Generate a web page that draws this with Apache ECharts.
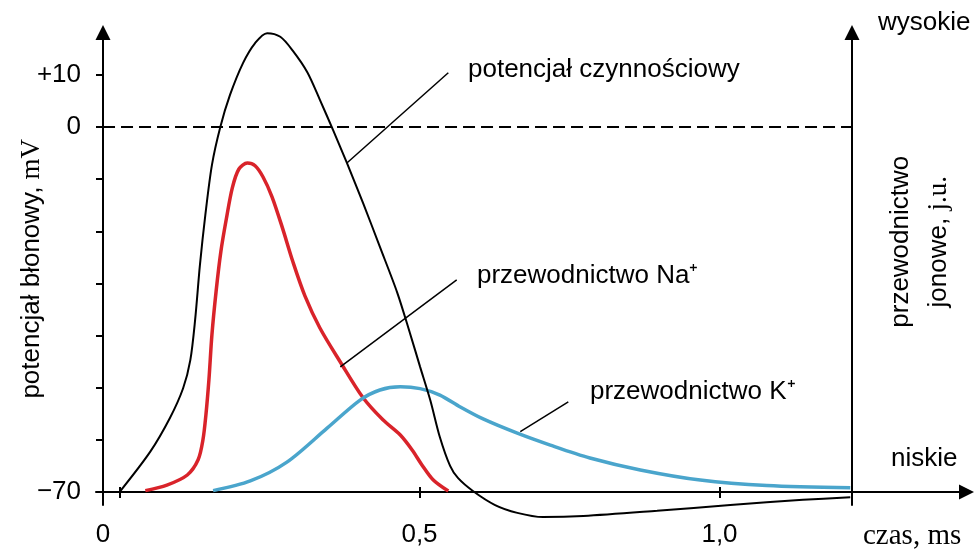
<!DOCTYPE html>
<html>
<head>
<meta charset="utf-8">
<style>
  html, body { margin: 0; padding: 0; background: #fff; }
  #main { width: 975px; height: 551px; }
</style>
<script src="https://cdn.jsdelivr.net/npm/echarts@6/dist/echarts.min.js"></script>
</head>
<body>
<div id="main"></div>
<script>
// potencjał czynnościowy: czas [ms] i napięcie [mV]
const apTime = [0, 0.051, 0.084, 0.106, 0.118, 0.126, 0.134, 0.143, 0.154, 0.168, 0.184, 0.206, 0.226, 0.246, 0.268, 0.289, 0.313, 0.334, 0.356, 0.379, 0.406, 0.434, 0.463, 0.484, 0.501, 0.518, 0.534, 0.551, 0.564, 0.589, 0.626, 0.663, 0.706, 0.773, 0.896, 1.018, 1.139, 1.218];
const apVolt = [-70, -62.3, -55.8, -50.1, -44.7, -37.0, -26.5, -16.9, -7.3, 0, 6.1, 12.3, 16.1, 18.0, 17.3, 14.6, 10.5, 5.2, -0.6, -6.9, -14.6, -23.0, -31.8, -39.5, -46.0, -52.4, -59.5, -65.0, -67.3, -69.8, -72.5, -74.0, -74.8, -74.6, -73.6, -72.5, -71.5, -71.0];

// przewodnictwo Na+ (j.u.)
const naTime = [0.043, 0.079, 0.113, 0.131, 0.139, 0.144, 0.149, 0.154, 0.161, 0.169, 0.178, 0.188, 0.199, 0.213, 0.226, 0.239, 0.254, 0.271, 0.289, 0.309, 0.334, 0.368, 0.406, 0.439, 0.468, 0.488, 0.504, 0.523, 0.548];
const naCond = [0.3, 1.5, 3.7, 7.0, 11.3, 16.8, 24.4, 34.2, 43.7, 52.4, 59.4, 66.2, 70.3, 71.6, 71.0, 68.6, 64.3, 57.7, 50.1, 42.7, 35.7, 28.3, 20.5, 15.7, 12.4, 9.1, 5.9, 2.6, 0.2];

// przewodnictwo K+ (j.u.)
const kTime = [0.156, 0.218, 0.279, 0.346, 0.401, 0.434, 0.468, 0.501, 0.534, 0.568, 0.606, 0.663, 0.718, 0.784, 0.868, 0.968, 1.079, 1.218];
const kCond = [0.3, 2.4, 6.5, 13.9, 20.0, 22.2, 22.9, 22.5, 21.1, 18.5, 15.9, 12.8, 10.2, 7.4, 4.8, 2.6, 1.4, 0.9];

// osie
const xTicks = [0, 0.5, 1.0];
const xTickText = ['0', '0,5', '1,0'];
const yTicks = [-70, -60, -50, -40, -30, -20, -10, 0, 10];
const yLabelValues = [-70, 0, 10];
const yLabelText = ['\u221270', '0', '+10'];

// zakresy osi (czas w ms, napięcie w mV)
const T_MIN = -0.0392, T_MAX = 1.4117;
const T_AXIS = -0.0275;   // położenie osi napięcia
const T_RIGHT = 1.2208;   // położenie osi przewodnictwa
const V_MIN = -72.49, V_MAX = 18.12;
const G_MIN = -2.83, G_MAX = 100;

const SANS = 'Liberation Sans';
const SERIF = 'Liberation Serif';

function pairs(xs, ys) {
    return xs.map((x, i) => [x, ys[i]]);
}

let myChart = echarts.init(document.getElementById('main'));

const xLabelValues = [T_AXIS, xTicks[1], xTicks[2]];

let option = {
    animation: false,
    backgroundColor: '#fff',
    grid: {
        left: 96,
        right: 8.5,
        top: 32.5,
        bottom: 46,
        outerBoundsMode: 'none',
        containLabel: false
    },
    xAxis: [
        {
            type: 'value',
            min: T_MIN,
            max: T_MAX,
            position: 'bottom',
            offset: -13,
            axisLine: {
                onZero: false,
                symbol: ['none', 'triangle'],
                symbolSize: [15, 15],
                lineStyle: { color: '#000', width: 2 }
            },
            axisTick: {
                show: true,
                customValues: xTicks,
                length: 6,
                lineStyle: { color: '#000', width: 2 }
            },
            axisLabel: {
                customValues: xLabelValues,
                formatter: function (v) {
                    const i = xLabelValues.indexOf(v);
                    return i >= 0 ? xTickText[i] : '';
                },
                margin: 30,
                color: '#000',
                fontFamily: SANS,
                fontSize: 26
            },
            splitLine: { show: false }
        },
        {
            // górna część kresek na osi czasu
            type: 'value',
            min: T_MIN,
            max: T_MAX,
            position: 'bottom',
            offset: -13,
            axisLine: { show: false, onZero: false },
            axisTick: {
                show: true,
                inside: true,
                customValues: xTicks,
                length: 5,
                lineStyle: { color: '#000', width: 2 }
            },
            axisLabel: { show: false },
            splitLine: { show: false }
        }
    ],
    yAxis: [
        {
            type: 'value',
            min: V_MIN,
            max: V_MAX,
            position: 'left',
            offset: -7,
            name: '{a|potencjał błonowy, }{b|mV}',
            nameLocation: 'middle',
            nameGap: 58,
            nameMoveOverlap: false,
            nameTextStyle: {
                rich: {
                    a: { fontFamily: SANS, fontSize: 26, color: '#000' },
                    b: { fontFamily: SERIF, fontSize: 27, color: '#000' }
                }
            },
            axisLine: {
                onZero: false,
                symbol: ['none', 'triangle'],
                symbolSize: [15, 15],
                lineStyle: { color: '#000', width: 2 }
            },
            axisTick: {
                show: true,
                customValues: yTicks,
                length: 7,
                lineStyle: { color: '#000', width: 2 }
            },
            axisLabel: {
                customValues: yLabelValues,
                formatter: function (v) {
                    const i = yLabelValues.indexOf(v);
                    return i >= 0 ? yLabelText[i] : '';
                },
                margin: 22,
                color: '#000',
                fontFamily: SANS,
                fontSize: 26
            },
            splitLine: { show: false }
        },
        {
            type: 'value',
            min: G_MIN,
            max: G_MAX,
            position: 'right',
            offset: -114.5,
            name: '{a|przewodnictwo}\n{a|jonowe, }{b|j.u.}',
            nameLocation: 'middle',
            nameGap: 30,
            nameMoveOverlap: false,
            nameTextStyle: {
                padding: [0, 0, 0, 54],
                rich: {
                    a: { fontFamily: SANS, fontSize: 26, color: '#000', lineHeight: 38 },
                    b: { fontFamily: SERIF, fontSize: 27, color: '#000', lineHeight: 38 }
                }
            },
            axisLine: {
                onZero: false,
                symbol: ['none', 'triangle'],
                symbolSize: [15, 15],
                lineStyle: { color: '#000', width: 2 }
            },
            axisTick: { show: false },
            axisLabel: { show: false },
            splitLine: { show: false }
        }
    ],
    series: [
        {
            name: 'przewodnictwo Na+',
            type: 'line',
            yAxisIndex: 1,
            data: pairs(naTime, naCond),
            smooth: 0.3,
            showSymbol: false,
            clip: false,
            lineStyle: { color: '#d9232a', width: 3.5 }
        },
        {
            name: 'przewodnictwo K+',
            type: 'line',
            yAxisIndex: 1,
            data: pairs(kTime, kCond),
            smooth: 0.3,
            showSymbol: false,
            clip: false,
            lineStyle: { color: '#4aa5cc', width: 3.5 }
        },
        {
            name: 'potencjał czynnościowy',
            type: 'line',
            yAxisIndex: 0,
            data: pairs(apTime, apVolt),
            smooth: 0.3,
            showSymbol: false,
            clip: false,
            lineStyle: { color: '#000', width: 2 },
            markLine: {
                silent: true,
                symbol: ['none', 'none'],
                label: { show: false },
                lineStyle: { color: '#000', width: 1.5, type: 'solid' },
                data: [
                    [
                        { coord: [T_AXIS, 0], lineStyle: { type: [12, 6], width: 2 } },
                        { coord: [T_RIGHT, 0] }
                    ],
                    // linie odnośników
                    [{ coord: [0.379, -6.9] }, { coord: [0.548, 10.4] }],
                    [{ coord: [0.368, -46.0] }, { coord: [0.562, -29.3] }],
                    [{ coord: [0.668, -58.4] }, { coord: [0.748, -52.7] }]
                ]
            }
        }
    ],
    graphic: [
        { type: 'text', x: 468, y: 70, style: { text: 'potencjał czynnościowy', font: '26px "Liberation Sans"', fill: '#000', textVerticalAlign: 'middle' } },
        { type: 'text', x: 477, y: 276, style: { text: 'przewodnictwo Na\u207A', font: '26px "Liberation Sans"', fill: '#000', textVerticalAlign: 'middle' } },
        { type: 'text', x: 590, y: 392, style: { text: 'przewodnictwo K\u207A', font: '26px "Liberation Sans"', fill: '#000', textVerticalAlign: 'middle' } },
        { type: 'text', x: 878, y: 23, style: { text: 'wysokie', font: '26px "Liberation Sans"', fill: '#000', textVerticalAlign: 'middle' } },
        { type: 'text', x: 891, y: 459, style: { text: 'niskie', font: '26px "Liberation Sans"', fill: '#000', textVerticalAlign: 'middle' } },
        { type: 'text', x: 863, y: 536, style: { text: 'czas, ms', font: '29px "Liberation Serif"', fill: '#000', textVerticalAlign: 'middle' } }
    ]
};

myChart.setOption(option);
window.addEventListener('resize', function () {
    myChart.resize();
});
</script>
</body>
</html>
